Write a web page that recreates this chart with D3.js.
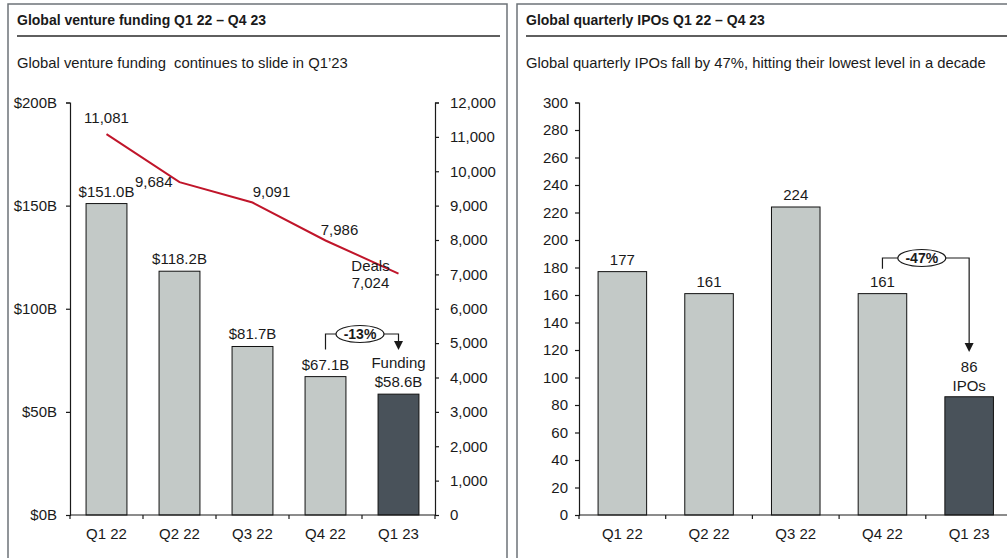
<!DOCTYPE html>
<html>
<head>
<meta charset="utf-8">
<script src="https://cdn.jsdelivr.net/npm/d3@7"></script>
<style>
  html, body { margin: 0; padding: 0; background: #fff; }
  svg { display: block; font-family: Arial, "Liberation Sans", sans-serif; }
</style>
</head>
<body>
<svg id="chart" width="1007" height="558"></svg>
<script>
// Quarterly data
const quarters = ["Q1 22", "Q2 22", "Q3 22", "Q4 22", "Q1 23"];
const fundingB = [151.0, 118.2, 81.7, 67.1, 58.6];
const deals = [11081, 9684, 9091, 7986, 7024];
const ipos = [177, 161, 224, 161, 86];

// Axis ticks
const fundingTicks = [0, 50, 100, 150, 200];
const dealTicks = [0, 1000, 2000, 3000, 4000, 5000, 6000, 7000, 8000, 9000, 10000, 11000, 12000];
const ipoTicks = [0, 20, 40, 60, 80, 100, 120, 140, 160, 180, 200, 220, 240, 260, 280, 300];

// Text
const leftTitle = "Global venture funding Q1 22 \u2013 Q4 23";
const leftSubtitle = "Global venture funding  continues to slide in Q1\u201923";
const rightTitle = "Global quarterly IPOs Q1 22 \u2013 Q4 23";
const rightSubtitle = "Global quarterly IPOs fall by 47%, hitting their lowest level in a decade";

const LIGHT = "#c3c9c7", DARK = "#49525a", RED = "#c0152a", INK = "#1a1a1a", FRAME = "#6d7378";
const FS = 15;

const svg = d3.select("#chart");

// Panel frames, header rules and titles
function panel(x0, x1, ruleEnd, title, subtitle) {
  svg.append("path")
    .attr("d", `M${x0},570 V4 H${x1} V570`)
    .attr("fill", "none").attr("stroke", FRAME).attr("stroke-width", 1.5);
  svg.append("line").attr("x1", x0 + 9).attr("x2", ruleEnd).attr("y1", 36).attr("y2", 36)
    .attr("stroke", "#2a2a2a").attr("stroke-width", 1.5);
  svg.append("text").attr("x", x0 + 9).attr("y", 25).attr("font-size", 14)
    .attr("font-weight", "bold").attr("fill", INK).text(title);
  svg.append("text").attr("x", x0 + 9).attr("y", 68).attr("font-size", 14.8)
    .attr("fill", INK).style("white-space", "pre").text(subtitle);
}
panel(8, 507, 500, leftTitle, leftSubtitle);
panel(517, 1020, 1020, rightTitle, rightSubtitle);

// Category axis with ticks at band edges
function categoryAxis(x, y0) {
  const g = svg.append("g");
  const [r0, r1] = x.range();
  g.append("line").attr("x1", r0).attr("x2", r1).attr("y1", y0).attr("y2", y0)
    .attr("stroke", INK).attr("stroke-width", 1.2);
  const edges = quarters.map(q => x(q) - x.step() * x.paddingInner() / 2).concat([r1]);
  g.selectAll("line.t").data(edges).join("line").attr("class", "t")
    .attr("x1", d => d).attr("x2", d => d).attr("y1", y0).attr("y2", y0 + 4)
    .attr("stroke", INK).attr("stroke-width", 1.2);
  g.selectAll("text").data(quarters).join("text")
    .attr("x", d => x(d) + x.bandwidth() / 2).attr("y", y0 + 24)
    .attr("text-anchor", "middle").attr("font-size", FS).attr("fill", INK).text(d => d);
}

// Value axis drawn with d3 axis generators
function valueAxis(axisGen, xPos, labelOffset, anchor) {
  const g = svg.append("g").attr("transform", `translate(${xPos},0)`).call(axisGen);
  g.select(".domain").attr("stroke", INK).attr("stroke-width", 1.2);
  g.selectAll(".tick line").attr("stroke", INK).attr("stroke-width", 1.2);
  g.selectAll(".tick text").attr("font-size", FS).attr("fill", INK)
    .attr("font-family", "Arial, 'Liberation Sans', sans-serif")
    .attr("x", labelOffset).attr("text-anchor", anchor);
  return g;
}

// Bracket annotation with labelled ellipse and arrow
function changeCallout(xFrom, yFromStart, xTo, yTop, yArrow, cx, label) {
  const g = svg.append("g");
  g.append("path")
    .attr("d", `M${xFrom},${yFromStart} V${yTop} H${xTo} V${yArrow - 8}`)
    .attr("fill", "none").attr("stroke", INK).attr("stroke-width", 1.2);
  g.append("path")
    .attr("d", `M${xTo - 4.5},${yArrow - 9} L${xTo + 4.5},${yArrow - 9} L${xTo},${yArrow} Z`)
    .attr("fill", INK);
  g.append("ellipse").attr("cx", cx).attr("cy", yTop).attr("rx", 24).attr("ry", 8.5)
    .attr("fill", "#fff").attr("stroke", INK).attr("stroke-width", 1.2);
  g.append("text").attr("x", cx).attr("y", yTop + 5).attr("text-anchor", "middle")
    .attr("font-size", 14).attr("font-weight", "bold").attr("fill", INK).text(label);
}

// ---------- Left: venture funding (bars) and deal count (line) ----------
const xL = d3.scaleBand().domain(quarters).range([70, 435]).paddingInner(0.44).paddingOuter(0.22);
const yF = d3.scaleLinear().domain([0, 200]).range([515, 102.5]);
const yD = d3.scaleLinear().domain([0, 12000]).range([515, 102.5]);

valueAxis(d3.axisLeft(yF).tickValues(fundingTicks).tickSize(4).tickFormat(d => `$${d}B`), 70, -13, "end");
valueAxis(d3.axisRight(yD).tickValues(dealTicks).tickSize(4).tickFormat(d3.format(",")), 435, 15, "start");

svg.append("g").selectAll("rect").data(fundingB).join("rect")
  .attr("x", (d, i) => xL(quarters[i]))
  .attr("y", d => yF(d))
  .attr("width", xL.bandwidth())
  .attr("height", d => yF(0) - yF(d))
  .attr("fill", (d, i) => i === quarters.length - 1 ? DARK : LIGHT)
  .attr("stroke", "#111").attr("stroke-width", 1);

categoryAxis(xL, 515);

// Funding labels
const fundLabels = svg.append("g");
fundingB.forEach((v, i) => {
  const cx = xL(quarters[i]) + xL.bandwidth() / 2;
  const last = i === quarters.length - 1;
  if (last) {
    fundLabels.append("text").attr("x", cx).attr("y", yF(v) - 26).attr("text-anchor", "middle")
      .attr("font-size", FS).attr("fill", INK).text("Funding");
  }
  fundLabels.append("text").attr("x", cx).attr("y", yF(v) - 7).attr("text-anchor", "middle")
    .attr("font-size", FS).attr("fill", INK).text(`$${v.toFixed(1)}B`);
});

// Deals line
const dealLine = d3.line()
  .x((d, i) => xL(quarters[i]) + xL.bandwidth() / 2)
  .y(d => yD(d));
svg.append("path").datum(deals).attr("d", dealLine)
  .attr("fill", "none").attr("stroke", RED).attr("stroke-width", 2);

// Deal labels: offsets relative to each point
const dealLabelOffsets = [[0, -11, "middle"], [-7, 5, "end"], [19, -5, "middle"], [14, -5, "middle"], [-28, 14, "middle"]];
const fmt = d3.format(",");
deals.forEach((v, i) => {
  const px = xL(quarters[i]) + xL.bandwidth() / 2, py = yD(v);
  const [dx, dy, anchor] = dealLabelOffsets[i];
  if (i === deals.length - 1) {
    svg.append("text").attr("x", px + dx).attr("y", py + dy - 17).attr("text-anchor", anchor)
      .attr("font-size", FS).attr("fill", INK).text("Deals");
  }
  svg.append("text").attr("x", px + dx).attr("y", py + dy).attr("text-anchor", anchor)
    .attr("font-size", FS).attr("fill", INK).text(fmt(v));
});

// -13% change callout
{
  const a = xL(quarters[3]) + xL.bandwidth() / 2;
  const b = xL(quarters[4]) + xL.bandwidth() / 2;
  const pct = Math.round((fundingB[4] / fundingB[3] - 1) * 100);
  changeCallout(a, yF(fundingB[3]) - 27, b, 334, 350, (a + b) / 2 - 2, `${pct}%`);
}

// ---------- Right: quarterly IPOs ----------
const xR = d3.scaleBand().domain(quarters).range([579, 1012.5]).paddingInner(0.44).paddingOuter(0.22);
const yI = d3.scaleLinear().domain([0, 300]).range([515, 102.5]);

valueAxis(d3.axisLeft(yI).tickValues(ipoTicks).tickSize(4).tickFormat(d => d), 579, -11, "end");

svg.append("g").selectAll("rect").data(ipos).join("rect")
  .attr("x", (d, i) => xR(quarters[i]))
  .attr("y", d => yI(d))
  .attr("width", xR.bandwidth())
  .attr("height", d => yI(0) - yI(d))
  .attr("fill", (d, i) => i === quarters.length - 1 ? DARK : LIGHT)
  .attr("stroke", "#111").attr("stroke-width", 1);

categoryAxis(xR, 515);

ipos.forEach((v, i) => {
  const cx = xR(quarters[i]) + xR.bandwidth() / 2;
  const last = i === quarters.length - 1;
  svg.append("text").attr("x", cx).attr("y", yI(v) - (last ? 25 : 7)).attr("text-anchor", "middle")
    .attr("font-size", FS).attr("fill", INK).text(v);
  if (last) {
    svg.append("text").attr("x", cx).attr("y", yI(v) - 6).attr("text-anchor", "middle")
      .attr("font-size", FS).attr("fill", INK).text("IPOs");
  }
});

// -47% change callout
{
  const a = xR(quarters[3]) + xR.bandwidth() / 2;
  const b = xR(quarters[4]) + xR.bandwidth() / 2;
  const pct = Math.round((ipos[4] / ipos[3] - 1) * 100);
  changeCallout(a, yI(ipos[3]) - 25, b, 258, 352, (a + b) / 2 - 4, `${pct}%`);
}
</script>
</body>
</html>
